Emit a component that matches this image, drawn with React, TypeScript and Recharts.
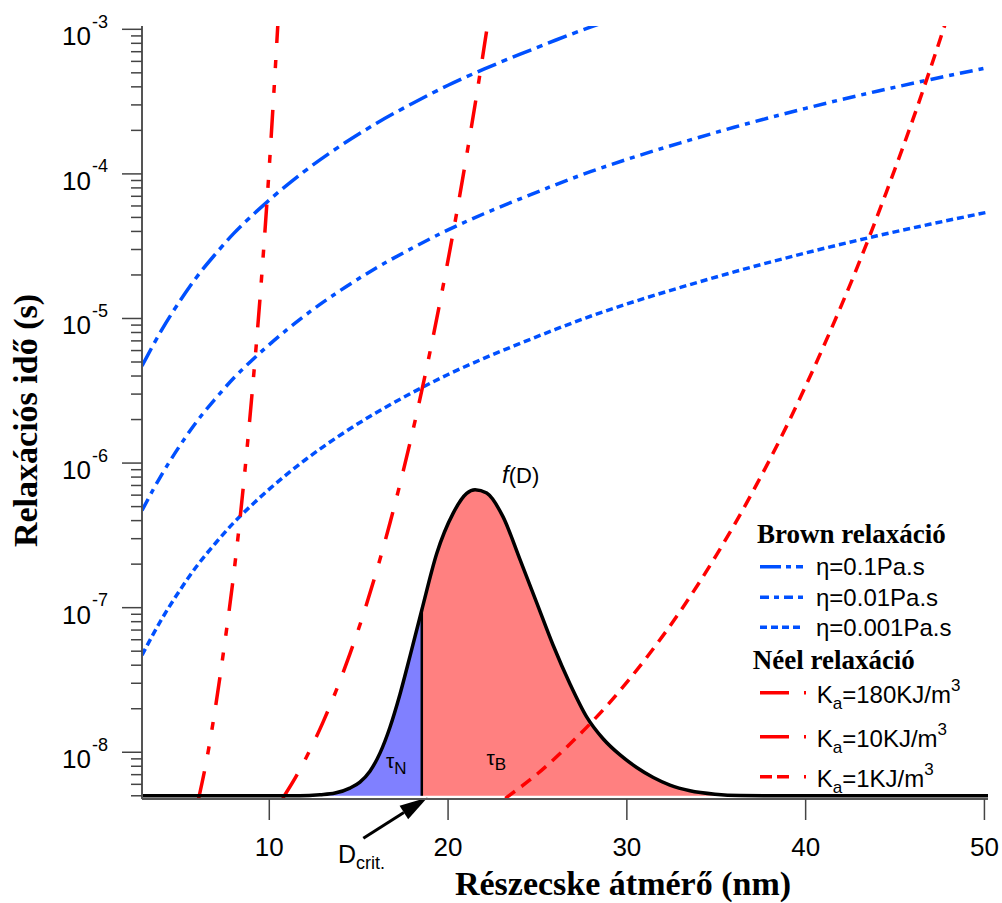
import React from 'react';
import { ComposedChart, Line, Area, XAxis, YAxis, ReferenceLine, ReferenceDot, Legend } from 'recharts';

const SANS = "'Liberation Sans', Arial, Helvetica, sans-serif";
const SERIF = "'Liberation Serif', 'Times New Roman', serif";
const BLUE = '#0050ff';
const RED = '#ff0000';

// x axis (particle diameter, nm) and y axis (relaxation time, s)
const X_DOMAIN = [2.88, 50.2];
const Y_DOMAIN = [4.75e-9, 1.054e-3];
const X_TICKS = [10, 20, 30, 40, 50];
const Y_TICKS = [
  5e-9, 6e-9, 7e-9, 8e-9, 9e-9,
  1e-8, 2e-8, 3e-8, 4e-8, 5e-8, 6e-8, 7e-8, 8e-8, 9e-8,
  1e-7, 2e-7, 3e-7, 4e-7, 5e-7, 6e-7, 7e-7, 8e-7, 9e-7,
  1e-6, 2e-6, 3e-6, 4e-6, 5e-6, 6e-6, 7e-6, 8e-6, 9e-6,
  1e-5, 2e-5, 3e-5, 4e-5, 5e-5, 6e-5, 7e-5, 8e-5, 9e-5,
  1e-4, 2e-4, 3e-4, 4e-4, 5e-4, 6e-4, 7e-4, 8e-4, 9e-4,
  1e-3,
];

// Brown relaxation
const BROWN_D = [2.88, 4, 5, 6, 7, 8, 9, 10, 12, 14, 16, 18, 20, 22, 24, 26, 28, 30, 33, 36, 40, 44, 47, 50.2];
const BROWN_ETA_01 = [4.7e-6, 8.4e-6, 1.32e-5, 1.98e-5, 2.8e-5, 3.86e-5, 5.1e-5, 6.6e-5, 1.05e-4, 1.57e-4, 2.24e-4, 3.07e-4, 4.1e-4, 5.3e-4, 6.7e-4, 8.4e-4, 1.04e-3, 1.26e-3, 1.64e-3, 2.1e-3, 2.84e-3, 3.73e-3, 4.5e-3, 5.44e-3];
const BROWN_ETA_001 = [4.7e-7, 8.4e-7, 1.32e-6, 1.98e-6, 2.8e-6, 3.86e-6, 5.1e-6, 6.6e-6, 1.05e-5, 1.57e-5, 2.24e-5, 3.07e-5, 4.1e-5, 5.3e-5, 6.7e-5, 8.4e-5, 1.04e-4, 1.26e-4, 1.64e-4, 2.1e-4, 2.84e-4, 3.73e-4, 4.5e-4, 5.44e-4];
const BROWN_ETA_0001 = [4.7e-8, 8.4e-8, 1.32e-7, 1.98e-7, 2.8e-7, 3.86e-7, 5.1e-7, 6.6e-7, 1.05e-6, 1.57e-6, 2.24e-6, 3.07e-6, 4.1e-6, 5.3e-6, 6.7e-6, 8.4e-6, 1.04e-5, 1.26e-5, 1.64e-5, 2.1e-5, 2.84e-5, 3.73e-5, 4.5e-5, 5.44e-5];

// Néel relaxation
const NEEL_180_D = [6.05, 6.5, 7.0, 7.5, 8.0, 8.5, 9.0, 9.5, 10.0, 10.25, 10.5];
const NEEL_180_T = [4.8e-9, 8.9e-9, 2.09e-8, 5.6e-8, 1.66e-7, 6.0e-7, 2.69e-6, 1.48e-5, 1.12e-4, 3.55e-4, 1.2e-3];
const NEEL_10_D = [10.75, 11.5, 12.25, 13, 13.75, 14.5, 15.25, 16, 16.75, 17.5, 18.25, 19, 19.5, 20, 20.5, 21, 21.5, 22, 22.4];
const NEEL_10_T = [4.8e-9, 6.8e-9, 1.02e-8, 1.61e-8, 2.69e-8, 4.75e-8, 8.9e-8, 1.79e-7, 3.85e-7, 8.9e-7, 2.21e-6, 5.96e-6, 1.21e-5, 2.54e-5, 5.53e-5, 1.26e-4, 2.96e-4, 7.3e-4, 1.55e-3];
const NEEL_1_D = [23.2, 25, 27, 29, 31, 33, 35, 37, 39, 41, 43, 44.5, 46, 47, 48];
const NEEL_1_T = [4.8e-9, 7.1e-9, 1.2e-8, 2.18e-8, 4.35e-8, 9.5e-8, 2.3e-7, 6.2e-7, 1.87e-6, 6.4e-6, 2.45e-5, 7.4e-5, 2.38e-4, 5.45e-4, 1.29e-3];

// size distribution f(D)
const DIST_D = [2.88, 11.7, 12.84, 13.68, 14.51, 15.07, 15.63, 16.19, 16.75, 17.31, 17.87, 18.53, 19.37, 20.28, 21.04, 21.51, 22.16, 23.07, 24.03, 24.96, 25.87, 26.82, 27.76, 28.67, 29.62, 30.55, 31.48, 32.41, 33.53, 34.93, 36.33, 38.57, 50.2];
const DIST_F = [5e-9, 5e-9, 5.08e-9, 5.22e-9, 5.65e-9, 6.22e-9, 7.4e-9, 9.86e-9, 1.49e-8, 2.52e-8, 4.62e-8, 9.64e-8, 2.38e-7, 4.49e-7, 6.17e-7, 6.55e-7, 6.2e-7, 4.26e-7, 2.14e-7, 1.08e-7, 5.52e-8, 2.97e-8, 1.75e-8, 1.24e-8, 9.58e-9, 7.85e-9, 6.69e-9, 5.93e-9, 5.42e-9, 5.13e-9, 5.02e-9, 5e-9, 5e-9];
const D_CRIT = 18.53;
const F_BASE = 5e-9;

const pairs = (xs: number[], ys: number[]) => xs.map((x, i) => ({ x, y: ys[i] }));
const DIST = pairs(DIST_D, DIST_F);
const DIST_N = DIST.filter((p) => p.x <= D_CRIT);
const DIST_B = DIST.filter((p) => p.x >= D_CRIT);
const F_AT_CRIT = DIST_F[DIST_D.indexOf(D_CRIT)];

const BROWN_SERIES = [
  { label: 'η=0.1Pa.s', values: BROWN_ETA_01, dash: '20 6 6 6', legendDash: '21 5 5 5 7 5' },
  { label: 'η=0.01Pa.s', values: BROWN_ETA_001, dash: '13 6 5 6', legendDash: '9 5 5 5 9 5' },
  { label: 'η=0.001Pa.s', values: BROWN_ETA_0001, dash: '7 4', legendDash: '7 4' },
];
const NEEL_SERIES = [
  { k: '180', d: NEEL_180_D, t: NEEL_180_T, dash: '28 17 8 17 8 17', legendDash: '29 15 2 20' },
  { k: '10', d: NEEL_10_D, t: NEEL_10_T, dash: '28 17 8 17', legendDash: '29 15 2 20' },
  { k: '1', d: NEEL_1_D, t: NEEL_1_T, dash: '12 8', legendDash: '12 5 12 15 2 20' },
];

const YTick = (props: any) => {
  const { x, y, payload } = props;
  const v = payload.value as number;
  const e = Math.round(Math.log10(v));
  const major = Math.abs(v / Math.pow(10, e) - 1) < 1e-6;
  return (
    <g>
      <line x1={x - (major ? 20 : 11)} x2={x} y1={y} y2={y} stroke="#444" strokeWidth={1.5} />
      {major && (
        <text x={x - 51} y={y + 16} textAnchor="end" fontSize={26} fontFamily={SANS} fill="#000">10</text>
      )}
      {major && (
        <text x={x - 50} y={y - 1.5} textAnchor="start" fontSize={18} fontFamily={SANS} fill="#000">{`-${Math.abs(e)}`}</text>
      )}
    </g>
  );
};

const XTick = (props: any) => {
  const { x, y, payload } = props;
  return (
    <g>
      <line x1={x} x2={x} y1={y} y2={y + 21} stroke="#444" strokeWidth={1.5} />
      <text x={x} y={y + 57} textAnchor="middle" fontSize={26} fontFamily={SANS} fill="#000">{payload.value}</text>
    </g>
  );
};

const XTitle = (props: any) => {
  const vb = props.viewBox || { x: 134, y: 791, width: 846, height: 104 };
  return (
    <text x={vb.x + vb.width / 2 + 58} y={vb.y + 96} textAnchor="middle" fontSize={34} fontWeight="bold" fontFamily={SERIF} fill="#000">
      Részecske átmérő (nm)
    </text>
  );
};

const YTitle = (props: any) => {
  const vb = props.viewBox || { x: 0, y: 18, width: 134, height: 773 };
  const cx = vb.x + 29;
  const cy = vb.y + vb.height / 2 + 8;
  return (
    <text x={cx} y={cy} transform={`rotate(-90, ${cx}, ${cy})`} textAnchor="middle" fontSize={34} fontWeight="bold" fontFamily={SERIF} fill="#000">
      Relaxációs idő (s)
    </text>
  );
};

const Arrow = (props: any) => {
  const { x1, y1, x2, y2 } = props;
  const dx = x2 - x1;
  const dy = y2 - y1;
  const len = Math.sqrt(dx * dx + dy * dy);
  const ux = dx / len;
  const uy = dy / len;
  const hl = 28;
  const hw = 8;
  const bx = x2 - ux * hl;
  const by = y2 - uy * hl;
  return (
    <g>
      <line x1={x1} y1={y1} x2={bx} y2={by} stroke="#000" strokeWidth={3} />
      <polygon
        points={`${x2},${y2} ${bx - uy * hw},${by + ux * hw} ${bx + uy * hw},${by - ux * hw}`}
        fill="#000"
      />
    </g>
  );
};

const LegendBox = () => {
  const brownY = [58.7, 89.3, 119.3];
  const neelY = [184.7, 228.7, 268.7];
  return (
    <svg width={250} height={295} style={{ overflow: 'visible' }}>
      <text x={12} y={35} fontSize={27} fontWeight="bold" fontFamily={SERIF} fill="#000">Brown relaxáció</text>
      {BROWN_SERIES.map((s, i) => (
        <g key={s.label}>
          <line x1={15} x2={58} y1={brownY[i]} y2={brownY[i]} stroke={BLUE} strokeWidth={3.5} strokeDasharray={s.legendDash} />
          <text x={71} y={brownY[i] + 8.5} fontSize={24} fontFamily={SANS} fill="#000">{s.label}</text>
        </g>
      ))}
      <text x={7.7} y={161} fontSize={27} fontWeight="bold" fontFamily={SERIF} fill="#000">Néel relaxáció</text>
      {NEEL_SERIES.map((s, i) => (
        <g key={s.k}>
          <line x1={15} x2={62} y1={neelY[i]} y2={neelY[i]} stroke={RED} strokeWidth={3.5} strokeDasharray={s.legendDash} />
          <text x={71.7} y={neelY[i] + 10.3} fontSize={24} fontFamily={SANS} fill="#000">
            K<tspan dy={6} fontSize={17}>a</tspan>
            <tspan dy={-6}>{`=${s.k}KJ/m`}</tspan>
            <tspan dy={-12} fontSize={17}>3</tspan>
          </text>
        </g>
      ))}
    </svg>
  );
};

const TextMark = (content: React.ReactNode, anchor: string = 'start') => (p: any) => (
  <text x={p.cx} y={p.cy} textAnchor={anchor} fontFamily={SANS} fill="#000">{content}</text>
);

export default function App() {
  return (
    <div style={{ position: 'absolute', left: 8, top: 8, width: 994, height: 895, background: '#fff' }}>
      <ComposedChart width={994} height={895} margin={{ top: 18, right: 14, bottom: 0, left: 0 }} style={{ overflow: 'visible' }}>
        <XAxis
          dataKey="x"
          type="number"
          domain={X_DOMAIN}
          allowDataOverflow
          ticks={X_TICKS}
          interval={0}
          tickSize={0}
          tickMargin={0}
          tickLine={false}
          tick={<XTick />}
          height={104}
          axisLine={{ stroke: '#555', strokeWidth: 2 }}
          label={<XTitle />}
        />
        <XAxis xAxisId="top" orientation="top" type="number" domain={X_DOMAIN} allowDataOverflow height={0} tick={false} tickLine={false} axisLine={{ stroke: '#555', strokeWidth: 2 }} />
        <YAxis
          type="number"
          scale="log"
          domain={Y_DOMAIN}
          allowDataOverflow
          ticks={Y_TICKS}
          interval={0}
          tickSize={0}
          tickMargin={0}
          tickLine={false}
          tick={<YTick />}
          width={134}
          axisLine={{ stroke: '#555', strokeWidth: 2 }}
          label={<YTitle />}
        />
        <YAxis yAxisId="right" orientation="right" type="number" scale="log" domain={Y_DOMAIN} allowDataOverflow width={0} tick={false} tickLine={false} axisLine={{ stroke: '#222', strokeWidth: 3 }} />

        <Area data={DIST_N} dataKey="y" type="monotone" fill="#8080ff" fillOpacity={1} stroke="none" baseValue={F_BASE} isAnimationActive={false} />
        <Area data={DIST_B} dataKey="y" type="monotone" fill="#ff8080" fillOpacity={1} stroke="none" baseValue={F_BASE} isAnimationActive={false} />

        {BROWN_SERIES.map((s) => (
          <Line key={s.label} data={pairs(BROWN_D, s.values)} dataKey="y" type="monotone" stroke={BLUE} strokeWidth={3.5} strokeDasharray={s.dash} dot={false} activeDot={false} isAnimationActive={false} />
        ))}
        {NEEL_SERIES.map((s) => (
          <Line key={s.k} data={pairs(s.d, s.t)} dataKey="y" type="monotone" stroke={RED} strokeWidth={3.5} strokeDasharray={s.dash} dot={false} activeDot={false} isAnimationActive={false} />
        ))}
        <Line data={DIST} dataKey="y" type="monotone" stroke="#000" strokeWidth={3.5} dot={false} activeDot={false} isAnimationActive={false} />

        <ReferenceLine segment={[{ x: D_CRIT, y: F_BASE }, { x: D_CRIT, y: F_AT_CRIT }]} stroke="#000" strokeWidth={2.5} />
        <ReferenceLine segment={[{ x: 15.26, y: 2.54e-9 }, { x: 18.85, y: 4.86e-9 }]} ifOverflow="visible" shape={<Arrow />} />

        <ReferenceDot x={23.02} y={7.28e-7} r={0} ifOverflow="visible" shape={TextMark(<><tspan fontStyle="italic" fontSize={24}>f</tspan><tspan fontSize={22}>(D)</tspan></>)} />
        <ReferenceDot x={16.53} y={7.78e-9} r={0} ifOverflow="visible" shape={TextMark(<><tspan fontSize={21}>τ</tspan><tspan fontSize={17} dy={6}>N</tspan></>)} />
        <ReferenceDot x={22.15} y={8.17e-9} r={0} ifOverflow="visible" shape={TextMark(<><tspan fontSize={21}>τ</tspan><tspan fontSize={17} dy={5}>B</tspan></>)} />
        <ReferenceDot x={13.84} y={1.71e-9} r={0} ifOverflow="visible" shape={TextMark(<><tspan fontSize={25}>D</tspan><tspan fontSize={18} dy={6}>crit.</tspan></>)} />

        <Legend
          layout="vertical"
          align="center"
          verticalAlign="middle"
          width={250}
          height={295}
          wrapperStyle={{ position: 'absolute', left: 737, top: 500, width: 250, height: 295 }}
          content={() => <LegendBox />}
        />
      </ComposedChart>
    </div>
  );
}
